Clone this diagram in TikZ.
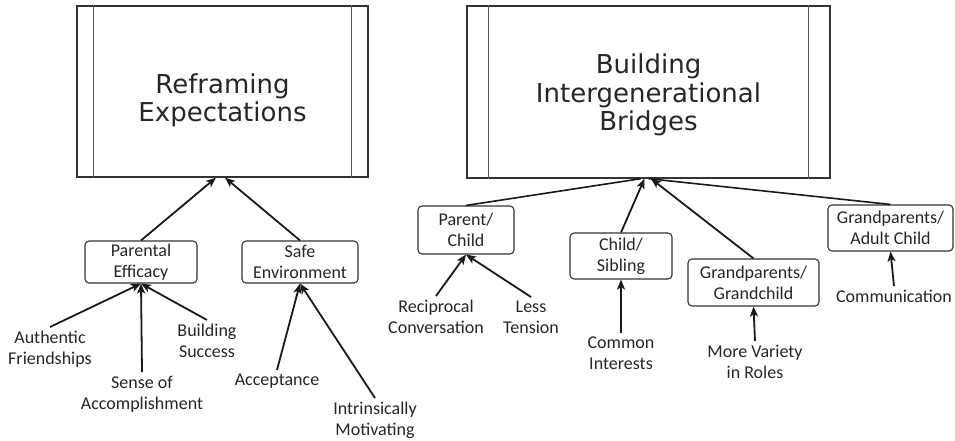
\documentclass[tikz,border=0pt]{standalone}
\usepackage{fontspec}
\setmainfont{Carlito}
\newfontfamily\bigfont{DejaVu Sans}
\usetikzlibrary{arrows.meta,calc}
\begin{document}
\begin{tikzpicture}[x=1pt,y=-1pt,
  bigbox/.style={draw=black!80, line width=1.3pt, inner sep=0pt},
  bigtext/.style={inner sep=0pt, align=center, font=\bigfont\fontsize{26}{28.5}\selectfont, text=black!85},
  innerline/.style={draw=black!65, line width=1.1pt},
  smallbox/.style={draw=black!80, line width=1.1pt, rounded corners=4pt, inner sep=0pt, align=center, font=\fontsize{18}{21}\selectfont, text=black!85},
  lbl/.style={inner sep=0pt, inner ysep=4pt, anchor=north, align=center, font=\fontsize{18}{21}\selectfont, text=black!85},
  arr/.style={-{Stealth[length=10pt,width=8pt,inset=2.5pt]}, line width=1.8pt, draw=black!90},
  ln/.style={line width=1.6pt, draw=black!90}]
\useasboundingbox (0,0) rectangle (955,440);

% top boxes
\node[bigbox, minimum width=291pt, minimum height=171pt] (re) at (222.5,91.5) {};
\draw[innerline] ($(re.north west)+(17,0)$) -- ($(re.south west)+(17,0)$);
\draw[innerline] ($(re.north east)+(-17,0)$) -- ($(re.south east)+(-17,0)$);
\node[bigtext] (retext) at ($(re.center)+(0,9)$) {Reframing\\Expectations};

\node[bigbox, minimum width=363pt, minimum height=172pt] (bi) at (648.5,92) {};
\draw[innerline] ($(bi.north west)+(22,0)$) -- ($(bi.south west)+(22,0)$);
\draw[innerline] ($(bi.north east)+(-22,0)$) -- ($(bi.south east)+(-22,0)$);
\node[bigtext] (bitext) at ($(bi.center)+(0,3)$) {Building\\Intergenerational\\Bridges};

\coordinate (l1) at ($(re.south)+(-6.5,0)$);
\coordinate (l2) at ($(re.south)+(2.5,0)$);
\coordinate (r1) at ($(bi.south)+(-7.5,0)$);
\coordinate (r2) at ($(bi.south)+(-4,0)$);
\coordinate (r3) at ($(bi.south)+(2.5,0)$);
\coordinate (r4) at ($(bi.south)+(0,0)$);

% left subtree
\node[smallbox, minimum width=112pt, minimum height=42pt] (pe) at (141,262) {Parental\\Efficacy};
\node[smallbox, minimum width=116pt, minimum height=42pt] (se) at (300,262) {Safe\\Environment};

\node[lbl] (auth) at (50,327) {Authentic\\Friendships};
\node[lbl] (sense) at (142,372) {Sense of\\Accomplishment};
\node[lbl] (build) at (207,320) {Building\\Success};
\node[lbl] (acc) at (277,370) {Acceptance};
\node[lbl] (intr) at (375,398) {Intrinsically\\Motivating};

\draw[arr] (pe.north) -- (l1);
\draw[arr] (se.north) -- (l2);
\draw[arr] (auth.north) -- (pe.south);
\draw[arr] (sense.north) -- (pe.south);
\draw[arr] (build.north) -- (pe.south);
\draw[arr] (acc.north) -- (se.south);
\draw[arr] (intr.north) -- (se.south);

% right subtree
\node[smallbox, minimum width=96pt, minimum height=48pt] (pc) at (466,230) {Parent/\\Child};
\node[smallbox, minimum width=102pt, minimum height=46pt] (cs) at (621,256) {Child/\\Sibling};
\node[smallbox, minimum width=131pt, minimum height=47pt] (gg) at (753.5,282.5) {Grandparents/\\Grandchild};
\node[smallbox, minimum width=125pt, minimum height=46pt] (ga) at (890.5,228) {Grandparents/\\Adult Child};

\node[lbl] (recip) at (436,296) {Reciprocal\\Conversation};
\node[lbl] (less) at (531,297) {Less\\Tension};
\node[lbl] (common) at (621,333) {Common\\Interests};
\node[lbl] (more) at (755,341) {More Variety\\in Roles};
\node[lbl] (comm) at (894,286) {Communication};

\draw[ln] (pc.north) -- (r1);
\draw[arr] (cs.north) -- (r2);
\draw[arr] (gg.north) -- (r3);
\draw[ln] (ga.north) -- (r4);
\draw[arr] (recip.north) -- (pc.south);
\draw[arr] (less.north) -- (pc.south);
\draw[arr] (common.north) -- (cs.south);
\draw[arr] (more.north) -- (gg.south);
\draw[arr] (comm.north) -- (ga.south);
\end{tikzpicture}
\end{document}
